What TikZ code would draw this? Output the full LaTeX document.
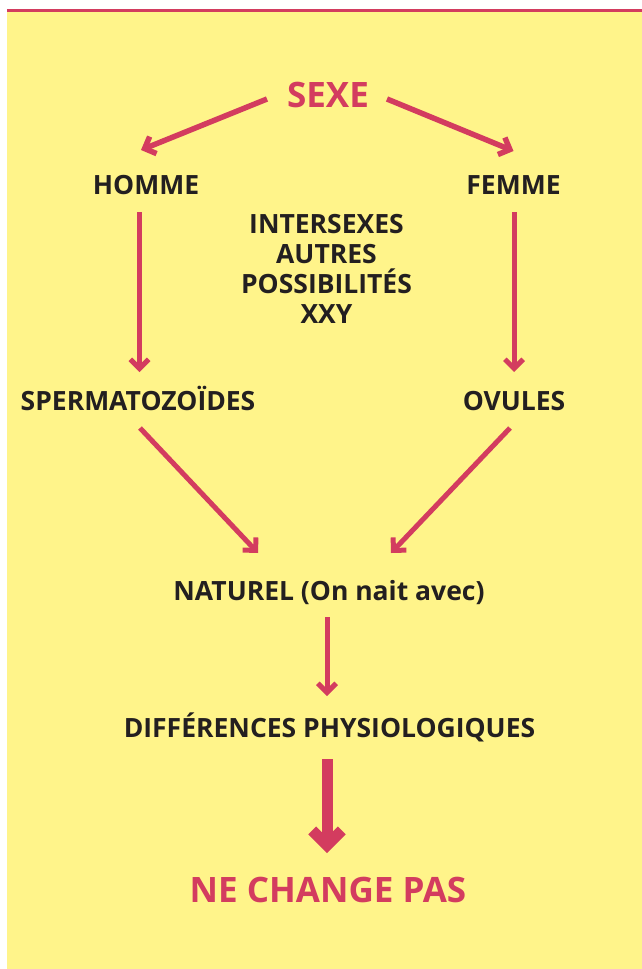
\documentclass[tikz,border=0pt]{standalone}
\usepackage{fontspec}
\setmainfont{Open Sans}
\usetikzlibrary{arrows.meta}
\definecolor{bgyellow}{HTML}{FFF48A}
\definecolor{accent}{HTML}{D33C5F}
\definecolor{ink}{HTML}{231F20}
\begin{document}
\begin{tikzpicture}[x=1pt,y=-1pt,
  lbl/.style={font=\fontsize{26.5}{30}\selectfont\bfseries, text=ink, inner sep=0pt, anchor=base},
  title/.style={font=\fontsize{35}{40}\selectfont\bfseries, text=accent, inner sep=0pt, anchor=base},
  arr/.style={draw=accent, line width=5pt, -{Straight Barb[sharp, angle=90:13pt]}},
  bigarr/.style={draw=accent, line width=11pt, -{Straight Barb[sharp, angle=90:21pt]}}]
\useasboundingbox (0,0) rectangle (642,969);
\fill[white] (0,0) rectangle (642,969);
\fill[bgyellow] (7,12) rectangle (642,969);
\fill[accent] (7,9.3) rectangle (642,11.8);

\node[title] (sexe) at (328,107) {SEXE};
\node[lbl] (homme) at (146,194) {HOMME};
\node[lbl] (femme) at (513.5,194) {FEMME};
\node[lbl, align=center] (inter) at (326.5,323) {INTERSEXES\\AUTRES\\POSSIBILITÉS\\XXY};
\node[lbl] (sperm) at (138,410) {SPERMATOZOÏDES};
\node[lbl] (ovules) at (514,410) {OVULES};
\node[lbl] (naturel) at (329,600) {NATUREL (On nait avec)};
\node[lbl] (diff) at (329.5,737) {DIFFÉRENCES PHYSIOLOGIQUES};
\node[title] (nechange) at (328,902) {NE CHANGE PAS};

\draw[arr, line width=5.5pt] ([shift={(-61,-8)}]sexe.base) -- ([shift={(-5,-44)}]homme.base);
\draw[arr, line width=5.5pt] ([shift={(59,-8)}]sexe.base) -- ([shift={(0,-43)}]femme.base);
\draw[arr] ([shift={(-6.5,18)}]homme.base) -- ([shift={(1.5,-38)}]sperm.base);
\draw[arr] ([shift={(0.5,18)}]femme.base) -- ([shift={(0,-38)}]ovules.base);
\draw[arr] ([shift={(2,18)}]sperm.base) -- ([shift={(-71,-47)}]naturel.base);
\draw[arr] ([shift={(-4,18)}]ovules.base) -- ([shift={(62,-47)}]naturel.base);
\draw[arr] ([shift={(-2,17)}]naturel.base) -- ([shift={(-2.5,-41)}]diff.base);
\draw[bigarr] ([shift={(-2.5,22)}]diff.base) -- ([shift={(-1,-49)}]nechange.base);
\end{tikzpicture}
\end{document}
